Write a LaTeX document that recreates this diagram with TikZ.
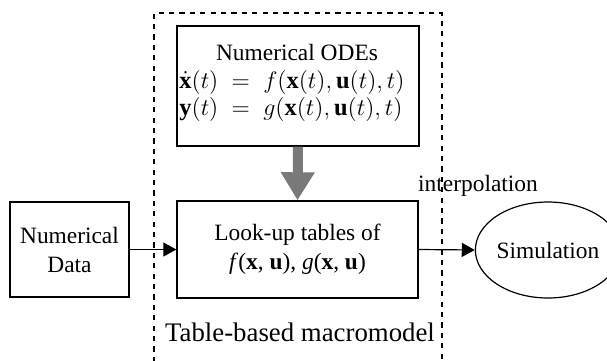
\documentclass[tikz,border=0pt]{standalone}
\usepackage{amsmath}
\usepackage{fontspec}
\setmainfont{Liberation Serif}
\usetikzlibrary{arrows.meta,shapes.geometric}

\tikzset{
  blockbox/.style={draw, line width=0.7pt, align=center, inner sep=0pt},
  flowarrow/.style={line width=0.6pt, -{Triangle[length=6.5pt,width=7pt]}},
}

\begin{document}
\begin{tikzpicture}[x=0.5pt, y=-0.5pt, font=\fontsize{11.7}{14.5}\selectfont]
        \useasboundingbox (0,0) rectangle (607,360);

        % Draw the dashed frame of the macromodel
        \draw[dashed, dash pattern=on 2.6pt off 2.6pt, line width=0.75pt]
          (154,362) |- (442,13) -- (442,362);

        % Draw the blocks
        \node[blockbox, minimum width=121pt, minimum height=60pt] (odes) at (298,86) {};
        \node[blockbox, minimum width=120.5pt, minimum height=48.5pt] (tables) at (297.5,249.5)
          {Look-up tables of\\ \textit{f}(\textbf{x}, \textbf{u}), \textit{g}(\textbf{x}, \textbf{u})};
        \node[blockbox, minimum width=59.5pt, minimum height=47.5pt] (data) at (69.5,249.5)
          {Numerical\\ Data};
        \node[draw, ellipse, line width=0.6pt, minimum width=56pt, minimum height=48pt,
          inner sep=0pt] (sim) at (548,250) {Simulation};

        % Text of the ODE block
        \node[inner sep=0pt] at (297,52) (odetitle) {Numerical ODEs};
        \node[inner sep=0pt, font=\fontsize{12.2}{14}\selectfont] at (292,96) (odeeqs) {$\begin{aligned}
            \dot{\mathbf{x}}(t) \;&=\; f(\mathbf{x}(t), \mathbf{u}(t), t)\\[-3.5pt]
            \mathbf{y}(t) \;&=\; g(\mathbf{x}(t), \mathbf{u}(t), t)
          \end{aligned}$};

        % Draw the arrows
        \draw[line width=5pt, color=gray!95!black, -{Triangle[length=14pt,width=16pt]}]
          (odes.south) -- (tables.north);
        \draw[flowarrow] (data.east) -- (tables.west);
        \draw[flowarrow] (tables.east) -- (sim.west);

        % Labels
        \node at (478,186) (interp) {interpolation};
        \node[font=\fontsize{13.4}{16}\selectfont] at (300,332) (macro) {Table-based macromodel};
    \end{tikzpicture}
\end{document}
